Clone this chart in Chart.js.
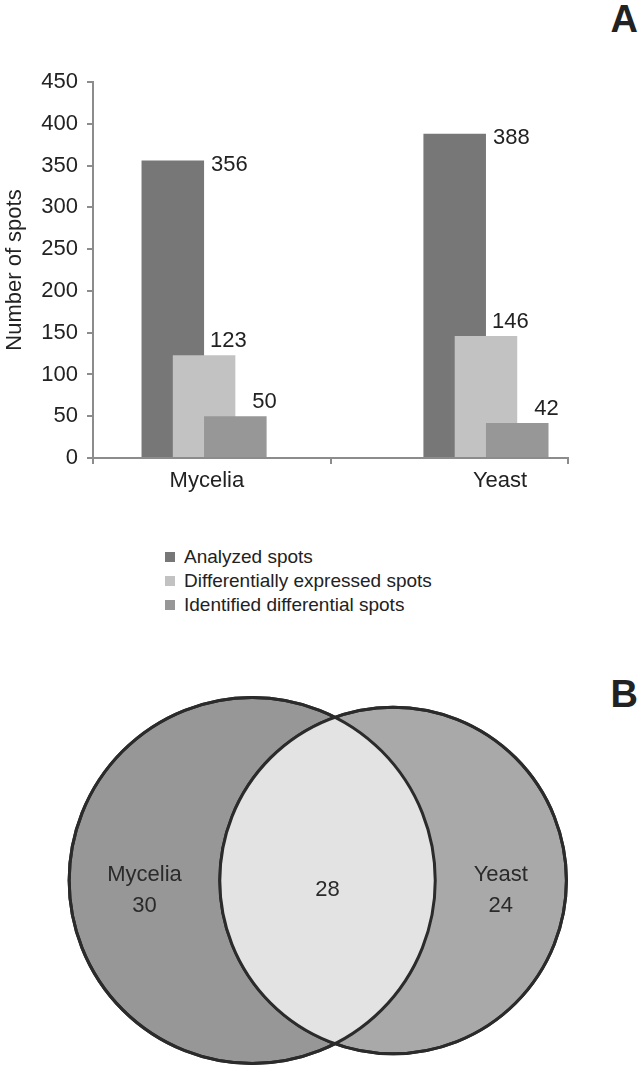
<!DOCTYPE html>
<html>
<head>
<meta charset="utf-8">
<script src="https://cdn.jsdelivr.net/npm/chart.js@4.4.1/dist/chart.umd.min.js"></script>
<style>
  body { margin: 0; background: #fff; font-family: 'Liberation Sans', Arial, sans-serif; }
  #page { position: relative; width: 642px; height: 1073px; overflow: hidden; }
  .panel { position: absolute; right: 4px; font-size: 38px; font-weight: bold; line-height: 1; color: #222; }
  #bars { position: absolute; left: 0; top: 0; }
  #venn { position: absolute; left: 0; top: 620px; }
  #legend { position: absolute; left: 165px; top: 545px; font-size: 19px; color: #222; }
  #legend div { height: 24px; display: flex; align-items: center; }
  #legend .box { width: 10px; height: 10px; margin-right: 9px; }
</style>
</head>
<body>
<div id="page">
  <div class="panel" style="top:0">A</div>
  <canvas id="bars" width="642" height="500"></canvas>
  <div id="legend"></div>
  <div class="panel" style="top:675px">B</div>
  <canvas id="venn" width="642" height="453"></canvas>
</div>
<script>
// data, panel A
const groups = ['Mycelia', 'Yeast'];
const seriesNames = ['Analyzed spots', 'Differentially expressed spots', 'Identified differential spots'];
const analyzedSpots = [356, 388];
const differentialSpots = [123, 146];
const identifiedSpots = [50, 42];
const yTicks = [0, 50, 100, 150, 200, 250, 300, 350, 400, 450];

// data, panel B
const vennNames = ['Mycelia', 'Yeast'];
const vennOnly = [30, 24];
const vennShared = 28;

// styles
const seriesColors = ['#777777', '#c2c2c2', '#979797'];
const vennColors = ['#979797', '#a9a9a9'];
const lensColor = '#e3e3e3';
const axisColor = '#8c8c8c';
const textColor = '#222222';
const fontFamily = "'Liberation Sans', Arial, sans-serif";
const groupPos = [0, 1];
const xRange = [-0.394, 1.291];
const labelNudge = [0.01, 0.05];
// where the value label sits for each series (relative to the bar top)
const valueLabelOffsets = [
  { fromRight: true, dx: 7, dy: 4 },
  { fromRight: false, dx: 6, dy: -14 },
  { fromRight: false, dx: 17, dy: -14 }
];

Chart.defaults.font.family = fontFamily;
Chart.defaults.color = textColor;

const seriesValues = [analyzedSpots, differentialSpots, identifiedSpots];

// legend as plain html
const legendBox = document.getElementById('legend');
seriesNames.forEach((name, i) => {
  const row = document.createElement('div');
  row.innerHTML = '<span class="box" style="background:' + seriesColors[i] + '"></span>' + name;
  legendBox.appendChild(row);
});

// draw bars in dataset order (later series in front) + value labels
const barLabels = {
  id: 'barLabels',
  beforeDatasetDraw() { return false; },
  afterDatasetsDraw(chart) {
    const ctx = chart.ctx;
    chart.data.datasets.forEach((ds, i) => chart.getDatasetMeta(i).controller.draw());
    ctx.save();
    ctx.font = '22px ' + fontFamily;
    ctx.fillStyle = textColor;
    ctx.textBaseline = 'middle';
    ctx.textAlign = 'left';
    chart.data.datasets.forEach((ds, i) => {
      const off = valueLabelOffsets[i];
      chart.getDatasetMeta(i).data.forEach((bar, j) => {
        const x = (off.fromRight ? bar.x + bar.width / 2 : bar.x) + off.dx;
        ctx.fillText(ds.data[j].y, x, bar.y + off.dy);
      });
    });
    ctx.restore();
  }
};

new Chart(document.getElementById('bars').getContext('2d'), {
  type: 'bar',
  data: {
    datasets: seriesNames.map((name, i) => ({
      label: name,
      data: seriesValues[i].map((v, j) => ({ x: groupPos[j], y: v })),
      backgroundColor: seriesColors[i],
      categoryPercentage: 0.395,
      barPercentage: 2
    }))
  },
  options: {
    responsive: false,
    animation: false,
    layout: { padding: { top: 82, right: 74, bottom: 6, left: 0 } },
    plugins: { legend: { display: false }, tooltip: { enabled: false } },
    scales: {
      x: {
        type: 'linear', min: xRange[0], max: xRange[1], offset: false, weight: 0,
        afterBuildTicks: s => { s.ticks = [xRange[0], (xRange[0] + xRange[1]) / 2, xRange[1]].map(v => ({ value: v })); },
        afterFit: s => { s.height = 6; },
        ticks: { display: false },
        grid: { drawOnChartArea: false, offset: false, tickLength: 6, color: axisColor, lineWidth: 2 },
        border: { color: axisColor, width: 2 }
      },
      x2: {
        type: 'linear', position: 'bottom', min: xRange[0], max: xRange[1], offset: false, weight: 1,
        afterBuildTicks: s => { s.ticks = groupPos.map((p, i) => ({ value: p + labelNudge[i] })); },
        afterFit: s => { s.height = 30; },
        ticks: { autoSkip: false, maxRotation: 0, padding: 4, font: { size: 22 }, color: textColor,
                 callback: (v, i) => groups[i] },
        grid: { display: false, drawTicks: false },
        border: { display: false }
      },
      y: {
        min: 0, max: 450,
        afterBuildTicks: s => { s.ticks = yTicks.map(v => ({ value: v })); },
        afterFit: s => { s.width = 93; },
        ticks: { padding: 9, font: { size: 22 }, color: textColor },
        grid: { drawOnChartArea: false, tickLength: 6, color: axisColor, lineWidth: 2 },
        border: { color: axisColor, width: 2 },
        title: { display: true, text: 'Number of spots', font: { size: 22 }, color: textColor, padding: { top: 2, bottom: 0 } }
      }
    }
  },
  plugins: [barLabels]
});

// ---- Venn: area proportional circles
const vennTotals = vennOnly.map(v => v + vennShared);
const vennRadii = vennTotals.map(t => Math.sqrt(t / Math.PI));

function lensArea(d, r1, r2) {
  const a1 = Math.acos(Math.min(1, Math.max(-1, (d * d + r1 * r1 - r2 * r2) / (2 * d * r1))));
  const a2 = Math.acos(Math.min(1, Math.max(-1, (d * d + r2 * r2 - r1 * r1) / (2 * d * r2))));
  const k = Math.sqrt(Math.max(0, (-d + r1 + r2) * (d + r1 - r2) * (d - r1 + r2) * (d + r1 + r2)));
  return r1 * r1 * a1 + r2 * r2 * a2 - k / 2;
}

let lo = Math.abs(vennRadii[0] - vennRadii[1]) + 1e-6;
let hi = vennRadii[0] + vennRadii[1];
for (let k = 0; k < 60; k++) {
  const mid = (lo + hi) / 2;
  if (lensArea(mid, vennRadii[0], vennRadii[1]) > vennShared) lo = mid; else hi = mid;
}
const vennGap = (lo + hi) / 2;

const vennView = { x: [-5.92, 9.15], y: [-4.52, 6.116] };

const vennPaint = {
  id: 'vennPaint',
  afterDatasetsDraw(chart) {
    const ctx = chart.ctx;
    const [a, b] = chart.getDatasetMeta(0).data;
    const ra = a.options.radius, rb = b.options.radius;
    ctx.save();
    ctx.beginPath();
    ctx.arc(a.x, a.y, ra, 0, Math.PI * 2);
    ctx.clip();
    ctx.beginPath();
    ctx.arc(b.x, b.y, rb, 0, Math.PI * 2);
    ctx.fillStyle = lensColor;
    ctx.fill();
    ctx.restore();

    ctx.save();
    ctx.lineWidth = 3;
    ctx.strokeStyle = '#2b2b2b';
    [[a, ra], [b, rb]].forEach(([p, r]) => {
      ctx.beginPath();
      ctx.arc(p.x, p.y, r, 0, Math.PI * 2);
      ctx.stroke();
    });
    ctx.font = '22px ' + fontFamily;
    ctx.fillStyle = '#2a2a2a';
    ctx.textAlign = 'center';
    ctx.textBaseline = 'middle';
    const leftX = ((a.x - ra) + (b.x - rb)) / 2;
    const rightX = ((a.x + ra) + (b.x + rb)) / 2;
    const midX = ((b.x - rb) + (a.x + ra)) / 2;
    ctx.fillText(vennNames[0], leftX, a.y - 6);
    ctx.fillText(vennOnly[0], leftX, a.y + 25);
    ctx.fillText(vennNames[1], rightX, b.y - 6);
    ctx.fillText(vennOnly[1], rightX, b.y + 25);
    ctx.fillText(vennShared, midX, a.y + 9);
    ctx.restore();
  }
};

new Chart(document.getElementById('venn').getContext('2d'), {
  type: 'scatter',
  data: {
    datasets: [{
      data: [{ x: 0, y: 0 }, { x: vennGap, y: 0 }],
      pointBackgroundColor: vennColors,
      pointBorderColor: '#2b2b2b',
      pointBorderWidth: 3,
      pointRadius: ctx => {
        const s = ctx.chart.scales.x;
        const r = vennRadii[ctx.dataIndex] || 0;
        return s.getPixelForValue(r) - s.getPixelForValue(0);
      }
    }]
  },
  options: {
    responsive: false,
    animation: false,
    layout: { padding: 0 },
    plugins: { legend: { display: false }, tooltip: { enabled: false } },
    scales: {
      x: { type: 'linear', display: false, min: vennView.x[0], max: vennView.x[1] },
      y: { type: 'linear', display: false, min: vennView.y[0], max: vennView.y[1] }
    }
  },
  plugins: [vennPaint]
});
</script>
</body>
</html>
